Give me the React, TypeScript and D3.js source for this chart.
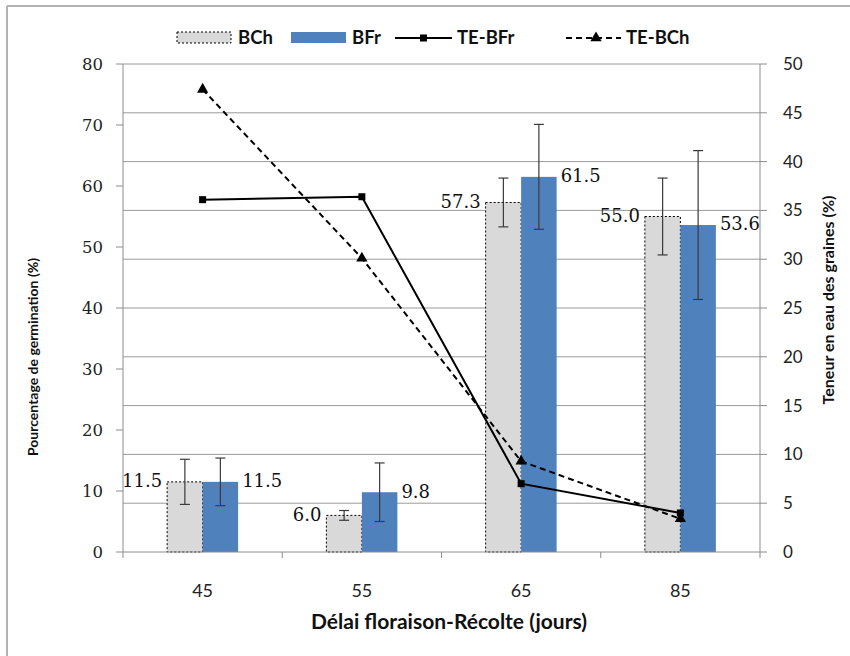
import React from 'react';
import * as d3 from 'd3';

const categories = ['45', '55', '65', '85'];
const seriesBars = ['BCh', 'BFr'];
const bchValues = [11.5, 6.0, 57.3, 55.0];
const bfrValues = [11.5, 9.8, 61.5, 53.6];
const bchErrors = [3.7, 0.8, 4.0, 6.3];
const bfrErrors = [3.9, 4.8, 8.6, 12.2];
const teBFr = [36.1, 36.4, 7.0, 4.0];
const teBCh = [47.4, 30.1, 9.3, 3.4];
const leftTicks = [0, 10, 20, 30, 40, 50, 60, 70, 80];
const rightTicks = [0, 5, 10, 15, 20, 25, 30, 35, 40, 45, 50];

const W = 850, H = 656;
const PL = 123, PR = 760, PT = 64, PB = 552;
const GROUP_W = 71;

const SERIF = '"DejaVu Serif", serif';
const SANS = 'Lato, "Open Sans", sans-serif';

export default function App() {
  const x = d3.scaleBand<string>().domain(categories).range([PL, PR]).padding(0);
  const xs = d3.scaleBand<string>().domain(seriesBars).range([0, GROUP_W]).padding(0);
  const yL = d3.scaleLinear().domain([0, 80]).range([PB, PT]);
  const yR = d3.scaleLinear().domain([0, 50]).range([PB, PT]);
  const groupStart = (c: string) => (x(c) as number) + x.bandwidth() / 2 - GROUP_W / 2;
  const cx = (c: string) => (x(c) as number) + x.bandwidth() / 2;

  const lineGen = d3
    .line<number>()
    .x((_, i) => cx(categories[i]))
    .y((d) => yR(d));

  const bars = [
    { key: 'BCh', values: bchValues, errors: bchErrors },
    { key: 'BFr', values: bfrValues, errors: bfrErrors },
  ];

  const tri = d3.symbol().type(d3.symbolTriangle).size(55)() as string;

  const boundaries = categories.map((c) => x(c) as number).concat([PR]);

  return (
    <svg width={W} height={H} style={{ position: 'absolute', left: 0, top: 0, background: '#fff' }}>
      <rect x={0} y={0} width={W} height={H} fill="#fff" />
      {/* outer frame */}
      <line x1={7} y1={6} x2={7} y2={H} stroke="#b3b3b3" strokeWidth={2} />
      <line x1={7} y1={6} x2={W} y2={6} stroke="#b3b3b3" strokeWidth={2} />

      {/* gridlines (right axis) */}
      {rightTicks.filter((t) => t > 0).map((t) => (
        <line key={'g' + t} x1={PL} x2={PR} y1={yR(t)} y2={yR(t)} stroke="#9a9a9a" strokeWidth={1} />
      ))}

      {/* bars */}
      {bars.map((s) =>
        s.values.map((v, i) => {
          const c = categories[i];
          const bx = groupStart(c) + (xs(s.key) as number);
          const bw = xs.bandwidth();
          const isBCh = s.key === 'BCh';
          return (
            <rect
              key={s.key + c}
              x={bx}
              y={yL(v)}
              width={bw}
              height={PB - yL(v)}
              fill={isBCh ? '#d9d9d9' : '#4f81bd'}
              stroke={isBCh ? '#000' : 'none'}
              strokeWidth={1}
              strokeDasharray={isBCh ? '2,2' : undefined}
            />
          );
        })
      )}

      {/* error bars */}
      {bars.map((s) =>
        s.values.map((v, i) => {
          const c = categories[i];
          const ex = groupStart(c) + (xs(s.key) as number) + xs.bandwidth() / 2;
          const e = s.errors[i];
          return (
            <g key={'e' + s.key + c} stroke="#3a3a3a" strokeWidth={1.2}>
              <line x1={ex} x2={ex} y1={yL(v + e)} y2={yL(v - e)} />
              <line x1={ex - 5} x2={ex + 5} y1={yL(v + e)} y2={yL(v + e)} />
              <line x1={ex - 5} x2={ex + 5} y1={yL(v - e)} y2={yL(v - e)} />
            </g>
          );
        })
      )}

      {/* axes */}
      <line x1={PL} x2={PL} y1={PT} y2={PB} stroke="#8c8c8c" />
      <line x1={PR} x2={PR} y1={PT} y2={PB} stroke="#8c8c8c" />
      <line x1={PL} x2={PR} y1={PB} y2={PB} stroke="#8c8c8c" />
      {leftTicks.map((t) => (
        <g key={'lt' + t}>
          <line x1={PL - 7} x2={PL} y1={yL(t)} y2={yL(t)} stroke="#8c8c8c" />
          <text x={PL - 20} y={yL(t)} dy="0.35em" textAnchor="end" fontFamily={SERIF} fontSize={16.5} fill="#222">
            {t}
          </text>
        </g>
      ))}
      {rightTicks.map((t) => (
        <g key={'rt' + t}>
          <line x1={PR} x2={PR + 7} y1={yR(t)} y2={yR(t)} stroke="#8c8c8c" />
          <text x={PR + 23} y={yR(t)} dy="0.35em" textAnchor="start" fontFamily={SANS} fontSize={17} fill="#222">
            {t}
          </text>
        </g>
      ))}
      {boundaries.map((b, i) => (
        <line key={'xt' + i} x1={b} x2={b} y1={PB} y2={PB + 6} stroke="#8c8c8c" />
      ))}
      {categories.map((c) => (
        <text key={'xl' + c} x={cx(c)} y={591} dy="0.35em" textAnchor="middle" fontFamily={SANS} fontSize={18} fill="#222">
          {c}
        </text>
      ))}

      {/* lines */}
      <path d={lineGen(teBFr) as string} fill="none" stroke="#000" strokeWidth={2} />
      <path d={lineGen(teBCh) as string} fill="none" stroke="#000" strokeWidth={2} strokeDasharray="6,4" />
      {teBFr.map((v, i) => (
        <rect key={'sq' + i} x={cx(categories[i]) - 3.5} y={yR(v) - 3.5} width={7} height={7} fill="#000" />
      ))}
      {teBCh.map((v, i) => (
        <path key={'tr' + i} d={tri} transform={`translate(${cx(categories[i])},${yR(v)})`} fill="#000" />
      ))}

      {/* data labels */}
      {bars.map((s) =>
        s.values.map((v, i) => {
          const c = categories[i];
          const bx = groupStart(c) + (xs(s.key) as number);
          const isBCh = s.key === 'BCh';
          return (
            <text
              key={'dl' + s.key + c}
              x={isBCh ? bx - 5 : bx + xs.bandwidth() + 4}
              y={yL(v)}
              dy="0.3em"
              textAnchor={isBCh ? 'end' : 'start'}
              fontFamily={SERIF}
              fontSize={18}
              fill="#111"
            >
              {v.toFixed(1)}
            </text>
          );
        })
      )}

      {/* axis titles */}
      <text
        transform={`translate(38,357) rotate(-90)`}
        textAnchor="middle"
        fontFamily={SANS}
        fontWeight="bold"
        fontSize={14}
        fill="#111"
      >
        Pourcentage de germination (%)
      </text>
      <text
        transform={`translate(834,300) rotate(-90)`}
        textAnchor="middle"
        fontFamily={SANS}
        fontWeight="bold"
        fontSize={16}
        fill="#111"
      >
        Teneur en eau des graines (%)
      </text>
      <text x={449} y={622} dy="0.35em" textAnchor="middle" fontFamily={SANS} fontWeight="bold" fontSize={21} fill="#111">
        Délai floraison-Récolte (jours)
      </text>

      {/* legend */}
      <g fontFamily={SANS} fontSize={18.5} fill="#111" fontWeight="bold">
        <rect x={177} y={32} width={54} height={11} fill="#d9d9d9" stroke="#000" strokeDasharray="2,2" />
        <text x={238} y={38} dy="0.35em">BCh</text>
        <rect x={291} y={32} width={55} height={11} fill="#4f81bd" />
        <text x={352} y={38} dy="0.35em">BFr</text>
        <line x1={395} x2={452} y1={38} y2={38} stroke="#000" strokeWidth={2} />
        <rect x={420} y={34.5} width={7} height={7} fill="#000" />
        <text x={457} y={38} dy="0.35em">TE-BFr</text>
        <line x1={566} x2={621} y1={38} y2={38} stroke="#000" strokeWidth={2} strokeDasharray="6,4" />
        <path d={tri} transform="translate(596,38)" fill="#000" />
        <text x={626} y={38} dy="0.35em">TE-BCh</text>
      </g>
    </svg>
  );
}
